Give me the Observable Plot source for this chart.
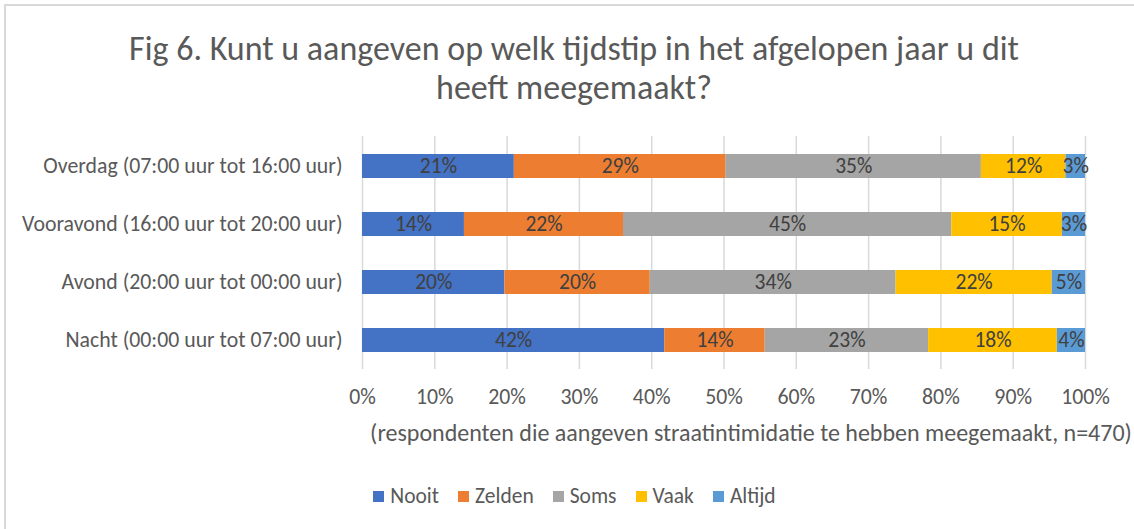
<!DOCTYPE html>
<html>
<head>
<meta charset="utf-8">
<script src="https://cdn.jsdelivr.net/npm/d3@7"></script>
<script src="https://cdn.jsdelivr.net/npm/@observablehq/plot@0.6"></script>
<style>
  html, body { margin: 0; padding: 0; background: #fff; }
  body { width: 1134px; height: 529px; overflow: hidden; position: relative; font-family: "Carlito", "Lato", sans-serif; color: #595959; }
  #frame { position: absolute; left: 4px; top: 4px; width: 1140px; height: 540px; border-top: 2px solid #d9d9d9; border-left: 2px solid #d9d9d9; }
  #title { position: absolute; left: 0; top: 29px; width: 1148px; text-align: center; font-size: 34px; line-height: 39px; color: #595959; }
  #chart { position: absolute; left: 0; top: 130px; }
  #caption { position: absolute; left: 0; width: 1502px; top: 419px; text-align: center; font-size: 24px; line-height: 28px; white-space: nowrap; color: #595959; }
  #legend { position: absolute; left: 0; width: 1149px; top: 482px; display: flex; justify-content: center; gap: 19px; font-size: 21.5px; line-height: 28px; color: #595959; }
  #legend .item { display: flex; align-items: center; }
  #legend .sw { width: 11px; height: 11px; margin-right: 6px; }
</style>
</head>
<body>
<div id="frame"></div>
<div id="title">Fig 6. Kunt u aangeven op welk tijdstip in het afgelopen jaar u dit<br>heeft meegemaakt?</div>
<div id="chart"></div>
<div id="caption"></div>
<div id="legend"></div>
<script>
// Categories (top to bottom)
const categories = [
  "Overdag (07:00 uur tot 16:00 uur)",
  "Vooravond (16:00 uur tot 20:00 uur)",
  "Avond (20:00 uur tot 00:00 uur)",
  "Nacht (00:00 uur tot 07:00 uur)"
];
// Series (percent of respondents), in category order
const series = ["Nooit", "Zelden", "Soms", "Vaak", "Altijd"];
const nooit  = [21.0, 14.1, 19.7, 41.8];
const zelden = [29.3, 22.0, 20.1, 13.9];
const soms   = [35.3, 45.4, 34.0, 22.6];
const vaak   = [11.7, 15.3, 21.6, 17.8];
const altijd = [ 2.7,  3.2,  4.6,  3.9];
const xTicks = [0, 10, 20, 30, 40, 50, 60, 70, 80, 90, 100];
const axisTitle = "(respondenten die aangeven straatintimidatie te hebben meegemaakt, n=470)";

const colors = ["#4472C4", "#ED7D31", "#A5A5A5", "#FFC000", "#5B9BD5"];

const seriesValues = [nooit, zelden, soms, vaak, altijd];
const data = [];
series.forEach((s, si) => {
  categories.forEach((c, ci) => {
    data.push({category: c, series: s, value: seriesValues[si][ci]});
  });
});

const chart = Plot.plot({
  width: 1134,
  height: 284,
  marginLeft: 362,
  marginRight: 49,
  marginTop: 6,
  marginBottom: 45,
  style: {fontFamily: '"Carlito", "Lato", sans-serif', fontSize: "21.8px", color: "#595959", background: "transparent", overflow: "visible"},
  x: {domain: [0, 100], ticks: xTicks, tickFormat: d => d + "%", tickSize: 0, tickPadding: 19, label: null},
  y: {domain: categories, tickSize: 0, tickPadding: 20, label: null, paddingInner: 0.59, paddingOuter: 0.295},
  color: {domain: series, range: colors},
  marks: [
    Plot.ruleX(xTicks, {stroke: "#d9d9d9", strokeWidth: 1.5}),
    Plot.barX(data, Plot.stackX({x: "value", y: "category", fill: "series", order: null})),
    Plot.text(data, Plot.stackX({x: "value", y: "category", order: null, text: d => Math.round(d.value) + "%", fill: "#404040", fontSize: 21.5}))
  ]
});
document.getElementById("chart").appendChild(chart);

document.getElementById("caption").textContent = axisTitle;

const legend = document.getElementById("legend");
series.forEach((s, i) => {
  const item = document.createElement("div");
  item.className = "item";
  const sw = document.createElement("span");
  sw.className = "sw";
  sw.style.background = colors[i];
  const t = document.createElement("span");
  t.textContent = s;
  item.appendChild(sw);
  item.appendChild(t);
  legend.appendChild(item);
});
</script>
</body>
</html>
